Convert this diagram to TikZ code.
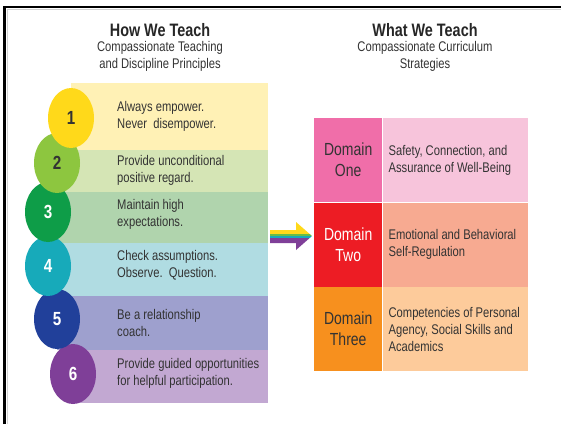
\documentclass[tikz,border=0pt]{standalone}
\usepackage{fontspec}
\setmainfont{Liberation Sans}[FakeStretch=0.8]
\usetikzlibrary{positioning,shapes.geometric,calc}

\definecolor{inkgray}{RGB}{51,51,51}
\definecolor{sun}{RGB}{255,217,26}
\definecolor{sunLight}{RGB}{255,241,181}
\definecolor{leaf}{RGB}{141,198,63}
\definecolor{leafLight}{RGB}{213,229,181}
\definecolor{forest}{RGB}{14,157,72}
\definecolor{forestLight}{RGB}{176,212,173}
\definecolor{lagoon}{RGB}{23,170,186}
\definecolor{lagoonLight}{RGB}{176,220,226}
\definecolor{marine}{RGB}{33,64,154}
\definecolor{marineLight}{RGB}{158,160,206}
\definecolor{grape}{RGB}{127,63,152}
\definecolor{grapeLight}{RGB}{194,168,210}
\definecolor{rose}{RGB}{240,110,169}
\definecolor{roseLight}{RGB}{247,196,219}
\definecolor{scarlet}{RGB}{237,28,36}
\definecolor{scarletLight}{RGB}{247,170,145}
\definecolor{tangerine}{RGB}{247,144,30}
\definecolor{tangerineLight}{RGB}{253,203,155}
\definecolor{stripeGreen}{RGB}{104,189,69}

\begin{document}
\begin{tikzpicture}[x=1pt, y=-1pt,
			band/.style={rectangle, inner sep=0pt, anchor=north west},
			bandText/.style={anchor=west, align=left, inner sep=0pt, text=inkgray, font=\fontsize{14}{17}\selectfont},
			num/.style={ellipse, minimum width=46pt, minimum height=60pt, inner sep=0pt, font=\fontsize{19}{19}\selectfont\bfseries},
			heading/.style={font=\fontsize{18}{20}\selectfont\bfseries, text=black!85, inner sep=0pt},
			subheading/.style={font=\fontsize{14}{17}\selectfont, text=inkgray, align=center, inner sep=0pt},
			domKey/.style={rectangle, minimum width=68pt, minimum height=84pt, inner sep=0pt, align=center, font=\fontsize{17.5}{21}\selectfont},
			domText/.style={rectangle, minimum width=145pt, minimum height=84pt, inner xsep=6pt, inner ysep=0pt, text width=133pt, align=flush left, text=inkgray, font=\fontsize{14}{17}\selectfont},
			borderLine/.style={line width=2.5pt},
			]
			\useasboundingbox (0,0) rectangle (561,424);
			
			% border
			\draw [gray!35, line width=0.7pt] (7,424) -- (7,9) -- (561,9);
			\draw [borderLine] (4.5,424) -- (4.5,6.8) -- (561,6.8);
			
			% titles
			\draw node[heading] (howTitle) at (160,30) {How We Teach};
			\draw node[subheading] (howSub) at (160,56.5) {Compassionate Teaching\\and Discipline Principles};
			\draw node[heading] (whatTitle) at (425,30) {What We Teach};
			\draw node[subheading] (whatSub) at (425,56.5) {Compassionate Curriculum\\Strategies};
			
			% principles
			\foreach \n/\x/\top/\h/\col in {1/71/83/67/sunLight, 2/57/150/42/leafLight, 3/48/192/51/forestLight, 4/48/243/53/lagoonLight, 5/57/296/54/marineLight, 6/73/350/53/grapeLight}
			{\draw node[band, fill=\col, minimum width={(268-\x)*1pt}, minimum height=\h pt] (band\n) at (\x,\top) {};}
			
			\coordinate (textCol) at (117,0);
			\foreach \n/\dy/\txt in {1/0/{Always empower.\\Never\ \ disempower.}, 2/1/{Provide unconditional\\positive regard.}, 3/3/{Maintain high\\expectations.}, 4/4/{Check assumptions.\\Observe.\ \ Question.}, 5/0/{Be a relationship\\coach.}, 6/3/{Provide guided opportunities\\for helpful participation.}}
			{\draw node[bandText, yshift=\dy pt] (say\n) at (textCol |- band\n.west) {\txt};}
			
			\foreach \n/\x/\y/\col/\tc in {6/73/374/grape/white, 5/57/319/marine/white, 4/48/266/lagoon/white, 3/48/212/forest/white, 2/57/163/leaf/inkgray, 1/71/118/sun/inkgray}
			{\draw node[num, fill=\col, text=\tc] (num\n) at (\x,\y) {\n};}
			
			% domains
			\draw node[domKey, fill=rose, text=inkgray, anchor=north west] (dom1) at (314,118) {Domain\\One};
			\draw node[domKey, fill=scarlet, text=white, below=0pt of dom1] (dom2) {Domain\\Two};
			\draw node[domKey, fill=tangerine, text=inkgray, below=0pt of dom2] (dom3) {Domain\\Three};
			
			\draw node[domText, fill=roseLight, right=0pt of dom1] (domText1) {Safety, Connection, and\\Assurance of Well-Being};
			\draw node[domText, fill=scarletLight, right=0pt of dom2] (domText2) {Emotional and Behavioral\\Self-Regulation};
			\draw node[domText, fill=tangerineLight, right=0pt of dom3] (domText3) {Competencies of Personal\\Agency, Social Skills and\\Academics};
			
			% Arrow
			\coordinate (arrowTail) at (270,236);
			\coordinate (arrowTip) at (312,236);
			\begin{scope}
				\clip (arrowTail) ++(0,-6) -- ++(26,0) -- ++(0,-8) -- (arrowTip) -- ++(-16,14) -- ++(0,-7) -- ++(-26,0) -- cycle;
				\fill [sun] ($(arrowTail)+(0,-16)$) rectangle ($(arrowTip)+(1,-2)$);
				\fill [stripeGreen] ($(arrowTail)+(0,-2)$) rectangle ($(arrowTip)+(1,0)$);
				\fill [lagoon] ($(arrowTail)+(0,0)$) rectangle ($(arrowTip)+(1,2)$);
				\fill [grape] ($(arrowTail)+(0,2)$) rectangle ($(arrowTip)+(1,16)$);
			\end{scope}
			
		\end{tikzpicture}
\end{document}
